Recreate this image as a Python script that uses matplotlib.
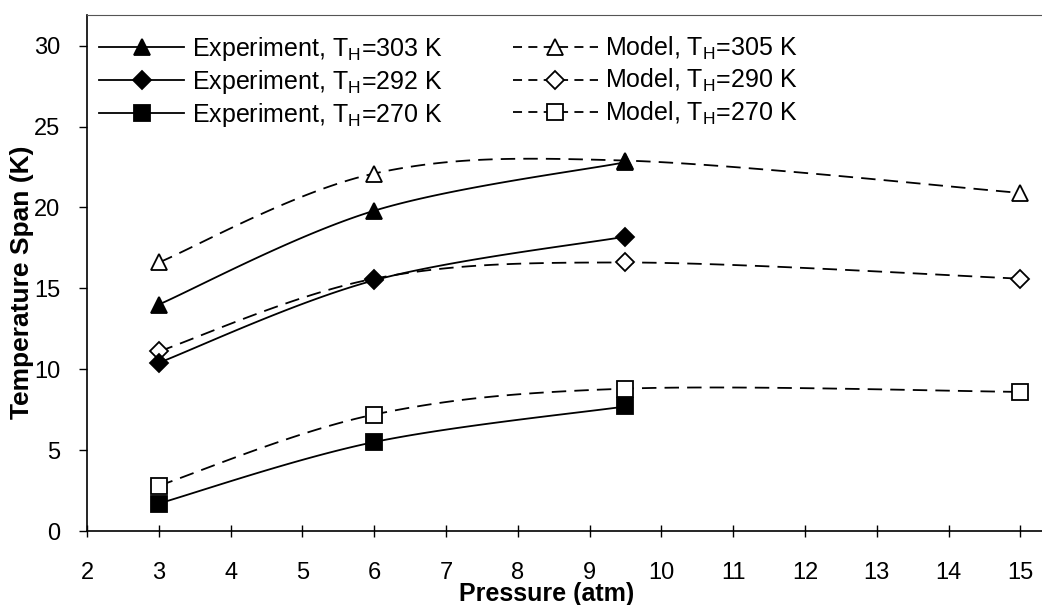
import numpy as np
import matplotlib
matplotlib.use("Agg")
import matplotlib.pyplot as plt
from matplotlib.lines import Line2D

plt.rcParams["font.family"] = ["Liberation Sans", "DejaVu Sans"]
plt.rcParams["mathtext.fontset"] = "custom"
plt.rcParams["mathtext.rm"] = "Liberation Sans"
plt.rcParams["mathtext.it"] = "Liberation Sans:italic"
plt.rcParams["mathtext.bf"] = "Liberation Sans:bold"

# Pressure values (atm)
p_exp = [3, 6, 9.5]
p_model = [3, 6, 9.5, 15]

# Temperature span (K), experiment
exp_303 = [14.0, 19.8, 22.8]
exp_292 = [10.4, 15.5, 18.2]
exp_270 = [1.7, 5.5, 7.7]

# Temperature span (K), model
mod_305 = [16.6, 22.1, 22.9, 20.9]
mod_290 = [11.1, 15.6, 16.6, 15.6]
mod_270 = [2.8, 7.2, 8.8, 8.6]

x_ticks = list(range(2, 16))
y_ticks = [0, 5, 10, 15, 20, 25, 30]


def smooth(x, y, n=40):
    """Catmull-Rom style Bezier smoothing through the given points."""
    x = np.asarray(x, float)
    y = np.asarray(y, float)
    pts = np.column_stack([x, y])
    out = [pts[0]]
    for i in range(len(pts) - 1):
        p0 = pts[i - 1] if i > 0 else pts[i]
        p1 = pts[i]
        p2 = pts[i + 1]
        p3 = pts[i + 2] if i + 2 < len(pts) else pts[i + 1]
        c1 = p1 + (p2 - p0) / 6.0
        c2 = p2 - (p3 - p1) / 6.0
        t = np.linspace(0, 1, n)[1:, None]
        seg = ((1 - t) ** 3) * p1 + 3 * ((1 - t) ** 2) * t * c1 \
            + 3 * (1 - t) * t ** 2 * c2 + t ** 3 * p2
        out.extend(seg)
    out = np.array(out)
    return out[:, 0], out[:, 1]


W, H = 1042, 605
fig = plt.figure(figsize=(W / 100, H / 100), dpi=100)
ax = fig.add_axes([87 / W, 74 / H, 1 - 87 / W + 0.002, 516 / H])

lw = 1.3
dash = (8, 4.5)

series = [
    (p_model, mod_305, "^", "white", "--", 12),
    (p_model, mod_290, "D", "white", "--", 9),
    (p_model, mod_270, "s", "white", "--", 12),
    (p_exp, exp_303, "^", "black", "-", 12),
    (p_exp, exp_292, "D", "black", "-", 9),
    (p_exp, exp_270, "s", "black", "-", 12),
]

for xs, ys, mk, fc, ls, ms in series:
    sx, sy = smooth(xs, ys)
    line, = ax.plot(sx, sy, color="black", lw=lw, ls=ls, zorder=2)
    if ls == "--":
        line.set_dashes(dash)
    ax.plot(xs, ys, ls="none", marker=mk, ms=ms, mfc=fc, mec="black",
            mew=1.3, zorder=3)

ax.set_xlim(2, 15.33)
ax.set_ylim(0, 31.9)
ax.set_xticks(x_ticks)
ax.set_yticks(y_ticks)
ax.tick_params(axis="both", labelsize=17, colors="black")
ax.tick_params(axis="x", direction="inout", length=8, width=1, pad=18)
ax.tick_params(axis="y", direction="out", length=6, width=1, pad=13)
ax.spines["right"].set_visible(False)
ax.spines["top"].set_color("#555555")
for s in ["left", "bottom"]:
    ax.spines[s].set_linewidth(1.2)

ax.set_xlabel("Pressure (atm)", fontsize=18, fontweight="bold")
ax.xaxis.set_label_coords((546 - 87) / (W - 87), -(594 - 531) / 516)
ax.xaxis.label.set_va("center")
ax.set_ylabel("Temperature Span (K)", fontsize=19, fontweight="bold")
ax.yaxis.set_label_coords(-(87 - 22) / (W - 87), (531 - 282) / 516)
ax.yaxis.label.set_va("center")

# Legend
def handle(mk, fc, ls, ms):
    h = Line2D([], [], color="black", lw=lw, ls=ls, marker=mk, ms=ms,
               mfc=fc, mec="black", mew=1.3)
    if ls == "--":
        h.set_dashes((5, 3.5))
    return h

handles = [
    handle("^", "black", "-", 12),
    handle("D", "black", "-", 9),
    handle("s", "black", "-", 12),
    handle("^", "white", "--", 12),
    handle("D", "white", "--", 9),
    handle("s", "white", "--", 12),
]
labels = [
    r"Experiment, T$_\mathregular{H}$=303 K",
    r"Experiment, T$_\mathregular{H}$=292 K",
    r"Experiment, T$_\mathregular{H}$=270 K",
    r"Model, T$_\mathregular{H}$=305 K",
    r"Model, T$_\mathregular{H}$=290 K",
    r"Model, T$_\mathregular{H}$=270 K",
]
leg = ax.legend(handles, labels, ncol=2, frameon=False, fontsize=18,
                loc="upper left", bbox_to_anchor=(-5 / (W - 87), 0.995),
                handlelength=3.4, handletextpad=0.3, columnspacing=2.8,
                labelspacing=0.2, borderaxespad=0.3)

fig.savefig("out.png", dpi=100)
